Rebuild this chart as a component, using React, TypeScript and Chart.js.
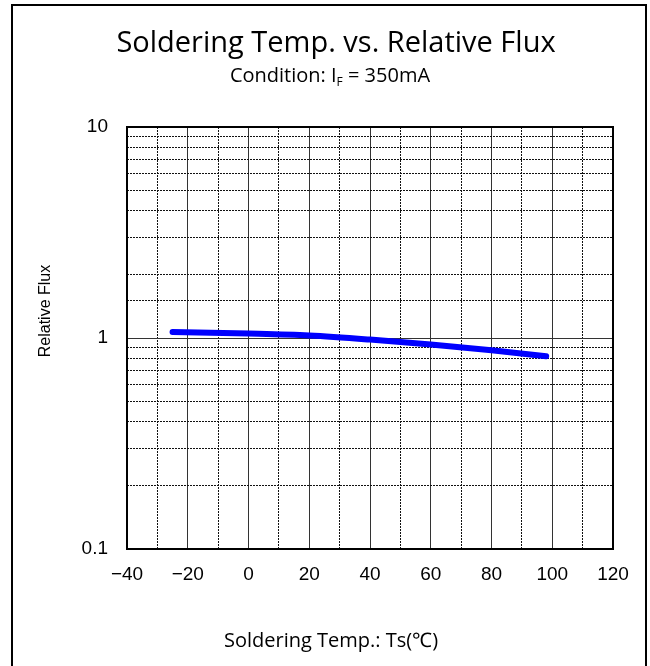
import { useEffect, useRef } from 'react';
import { Chart, registerables } from 'chart.js';

Chart.register(...registerables);

// values
const temps = [-25, 0, 20, 40, 60, 80, 98];
const flux = [1.067, 1.049, 1.027, 0.983, 0.931, 0.874, 0.82];
const xTicksShown = [-40, -20, 0, 20, 40, 60, 80, 100, 120];
const yTicksShown = [0.1, 1, 10];

const titleText = 'Soldering Temp. vs. Relative Flux';
const xTitle = 'Soldering Temp.: Ts(\u2103)';
const yTitle = 'Relative Flux';

const isDecade = (v: number) => Math.abs(Math.log10(v) - Math.round(Math.log10(v))) < 1e-6;

// titles + plot frame
const decorPlugin = {
  id: 'decor',
  afterDraw(chart: any) {
    const { ctx, chartArea } = chart;
    ctx.save();

    // frame around the plot area
    ctx.strokeStyle = '#000';
    ctx.lineWidth = 2;
    ctx.strokeRect(chartArea.left, chartArea.top, chartArea.right - chartArea.left, chartArea.bottom - chartArea.top);

    ctx.fillStyle = '#000';
    ctx.textBaseline = 'alphabetic';

    ctx.font = '29px "Open Sans"';
    ctx.textAlign = 'center';
    ctx.fillText(titleText, 336, 52);

    // subtitle with subscript F
    const main = '20px "Open Sans"';
    const sub = '12px "Open Sans"';
    const a = 'Condition: I';
    const b = 'F';
    const c = ' = 350mA';
    ctx.font = main;
    const wa = ctx.measureText(a).width;
    const wc = ctx.measureText(c).width;
    ctx.font = sub;
    const wb = ctx.measureText(b).width;
    let x = 330 - (wa + wb + wc) / 2;
    ctx.textAlign = 'left';
    ctx.font = main;
    ctx.fillText(a, x, 82);
    x += wa;
    ctx.font = sub;
    ctx.fillText(b, x, 86);
    x += wb;
    ctx.font = main;
    ctx.fillText(c, x, 82);

    ctx.textAlign = 'center';
    ctx.font = '20px "Open Sans"';
    ctx.fillText(xTitle, 331, 647);

    ctx.translate(46, 311);
    ctx.rotate(-Math.PI / 2);
    ctx.font = '16px "Liberation Sans"';
    ctx.textBaseline = 'middle';
    ctx.fillText(yTitle, 0, 0);
    ctx.restore();
  },
};

export default function App() {
  const canvasRef = useRef<HTMLCanvasElement>(null);

  useEffect(() => {
    if (!canvasRef.current) return;
    const chart = new Chart(canvasRef.current, {
      type: 'line',
      data: {
        datasets: [
          {
            data: temps.map((t, i) => ({ x: t, y: flux[i] })),
            borderColor: '#0000ff',
            borderWidth: 6,
            borderCapStyle: 'round',
            pointRadius: 0,
            tension: 0.4,
            cubicInterpolationMode: 'monotone',
          },
        ],
      },
      options: {
        animation: false,
        responsive: false,
        layout: { padding: { top: 127, left: 0, right: 37, bottom: 77 } },
        plugins: { legend: { display: false }, tooltip: { enabled: false } },
        scales: {
          x: {
            type: 'linear',
            min: -40,
            max: 120,
            afterFit: (scale: any) => { scale.height = 40; },
            ticks: {
              stepSize: 10,
              autoSkip: false,
              maxRotation: 0,
              padding: 14,
              color: '#000',
              font: { family: '"Liberation Sans"', size: 19 },
              callback: (v: any) => (xTicksShown.includes(Number(v)) ? String(v).replace('-', '\u2212') : ''),
            },
            grid: {
              drawTicks: false,
              color: (ctx: any) => (ctx.tick && ctx.tick.value % 20 === 0 ? '#333' : '#111'),
              lineWidth: 1,
            },
            border: {
              display: false,
              dash: (ctx: any) => (ctx.tick && ctx.tick.value % 20 === 0 ? [] : [2, 1]),
            },
          },
          y: {
            type: 'logarithmic',
            min: 0.1,
            max: 10,
            afterFit: (scale: any) => { scale.width = 127; },
            ticks: {
              autoSkip: false,
              padding: 19,
              color: '#000',
              font: { family: '"Liberation Sans"', size: 19 },
              callback: (v: any) => (yTicksShown.some((t) => Math.abs(t - Number(v)) < 1e-9) ? String(v) : ''),
            },
            grid: {
              drawTicks: false,
              color: (ctx: any) => (ctx.tick && isDecade(ctx.tick.value) ? '#333' : '#111'),
              lineWidth: 1,
            },
            border: {
              display: false,
              dash: (ctx: any) => (ctx.tick && isDecade(ctx.tick.value) ? [] : [2, 1]),
            },
          },
        },
      },
      plugins: [decorPlugin],
    });
    return () => chart.destroy();
  }, []);

  return (
    <div style={{ position: 'absolute', left: 0, top: 0, width: 650, height: 666, overflow: 'hidden', background: '#fff' }}>
      <div
        style={{
          position: 'absolute',
          left: 11,
          top: 4,
          width: 632,
          height: 700,
          border: '2px solid #000',
          boxSizing: 'content-box',
        }}
      />
      <canvas ref={canvasRef} width={650} height={666} style={{ position: 'absolute', left: 0, top: 0, width: 650, height: 666 }} />
    </div>
  );
}
